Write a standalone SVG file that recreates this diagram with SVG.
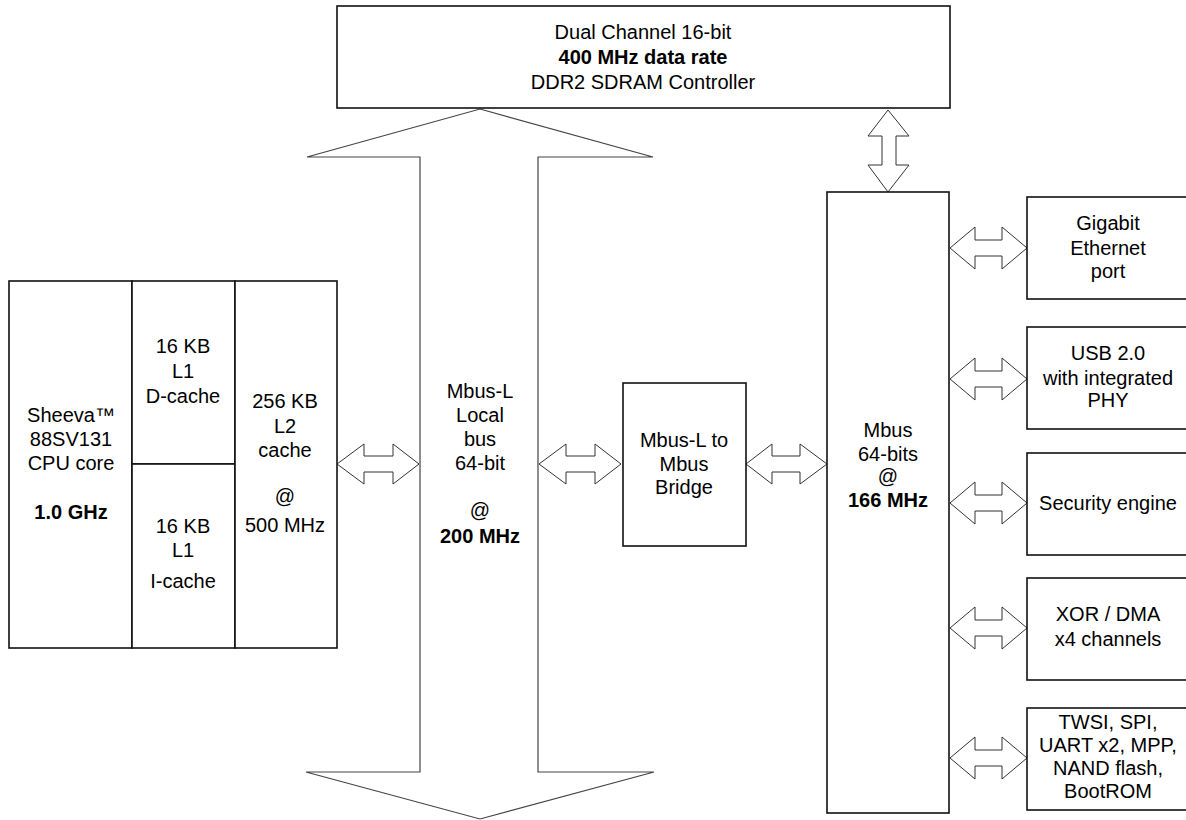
<svg xmlns="http://www.w3.org/2000/svg" width="1186" height="820" viewBox="0 0 1186 820">
<style>
.box{fill:#fff;stroke:#111;stroke-width:1.6}
.arr{fill:#fff;stroke:#333;stroke-width:1}
.bus{fill:#fff;stroke:#444;stroke-width:1.2}
text{font-family:"Liberation Sans",Arial,sans-serif;font-size:20px;fill:#000;text-anchor:middle}
.b{font-weight:bold}
</style>
<rect width="1186" height="820" fill="#fff"/>
<g id="connectors">
<polygon id="mbusl-bus" class="bus" points="480,109 653,157 538,157 538,772 654,772 480,819 306,772 420,772 420,157 307,157"/>
<polygon class="arr" points="337,464 364,444 364,456 393,456 393,444 419,464 393,484 393,472 364,472 364,484"/>
<polygon class="arr" points="539,464 566,444 566,456 595,456 595,444 621,464 595,484 595,472 566,472 566,484"/>
<polygon class="arr" points="746,464 772,444 772,456 800,456 800,444 827,464 800,484 800,472 772,472 772,484"/>
<polygon class="arr" points="888,110 909,136 896,136 896,165 909,165 888,192 868,165 882,165 882,136 868,136"/>
<polygon class="arr" points="950,248 975,227 975,240 1002,240 1002,227 1027,248 1002,269 1002,256 975,256 975,269"/>
<polygon class="arr" points="950,379 975,358 975,371 1002,371 1002,358 1027,379 1002,400 1002,387 975,387 975,400"/>
<polygon class="arr" points="950,503 975,482 975,495 1002,495 1002,482 1027,503 1002,524 1002,511 975,511 975,524"/>
<polygon class="arr" points="950,628 975,607 975,620 1002,620 1002,607 1027,628 1002,649 1002,636 975,636 975,649"/>
<polygon class="arr" points="950,758 975,737 975,750 1002,750 1002,737 1027,758 1002,779 1002,766 975,766 975,779"/>
</g>
<g id="mbusl-label">
<text x="480" y="398">Mbus-L</text>
<text x="480" y="422">Local</text>
<text x="480" y="446">bus</text>
<text x="480" y="470">64-bit</text>
<text x="480" y="517">@</text>
<text x="480" y="543" class="b">200 MHz</text>
</g>
<g id="ddr">
<rect class="box" x="337" y="6" width="613" height="102"/>
<text x="643" y="39">Dual Channel 16-bit</text>
<text x="643" y="64" class="b">400 MHz data rate</text>
<text x="643" y="89">DDR2 SDRAM Controller</text>
</g>
<g id="cpu">
<rect class="box" x="9" y="281" width="123" height="367"/>
<text x="71" y="422">Sheeva™</text>
<text x="71" y="446">88SV131</text>
<text x="71" y="470">CPU core</text>
<text x="71" y="519" class="b">1.0 GHz</text>
</g>
<g id="l1d">
<rect class="box" x="132" y="281" width="103" height="183"/>
<text x="183" y="353">16 KB</text>
<text x="183" y="378">L1</text>
<text x="183" y="403">D-cache</text>
</g>
<g id="l1i">
<rect class="box" x="132" y="464" width="103" height="184"/>
<text x="183" y="533">16 KB</text>
<text x="183" y="557">L1</text>
<text x="183" y="588">I-cache</text>
</g>
<g id="l2">
<rect class="box" x="235" y="281" width="102" height="367"/>
<text x="285" y="408">256 KB</text>
<text x="285" y="433">L2</text>
<text x="285" y="457">cache</text>
<text x="285" y="503">@</text>
<text x="285" y="532">500 MHz</text>
</g>
<g id="bridge">
<rect class="box" x="623" y="383" width="123" height="163"/>
<text x="684" y="447">Mbus-L to</text>
<text x="684" y="471">Mbus</text>
<text x="684" y="494">Bridge</text>
</g>
<g id="mbus">
<rect class="box" x="827" y="192" width="122" height="621"/>
<text x="888" y="437">Mbus</text>
<text x="888" y="461">64-bits</text>
<text x="888" y="483">@</text>
<text x="888" y="507" class="b">166 MHz</text>
</g>
<g id="gige">
<rect class="box" x="1027" y="197" width="165" height="102"/>
<text x="1108" y="230">Gigabit</text>
<text x="1108" y="255">Ethernet</text>
<text x="1108" y="278">port</text>
</g>
<g id="usb">
<rect class="box" x="1027" y="327" width="165" height="102"/>
<text x="1108" y="360">USB 2.0</text>
<text x="1108" y="385">with integrated</text>
<text x="1108" y="407">PHY</text>
</g>
<g id="security">
<rect class="box" x="1027" y="453" width="165" height="102"/>
<text x="1108" y="510">Security engine</text>
</g>
<g id="xor">
<rect class="box" x="1027" y="578" width="165" height="102"/>
<text x="1108" y="621">XOR / DMA</text>
<text x="1108" y="646">x4 channels</text>
</g>
<g id="periph">
<rect class="box" x="1027" y="708" width="165" height="102"/>
<text x="1108" y="729">TWSI, SPI,</text>
<text x="1108" y="752">UART x2, MPP,</text>
<text x="1108" y="775">NAND flash,</text>
<text x="1108" y="798">BootROM</text>
</g>
</svg>
